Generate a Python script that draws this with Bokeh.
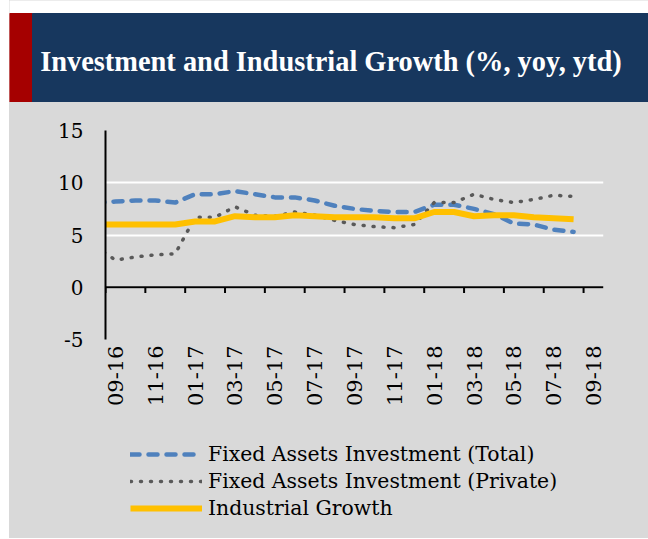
import math
from bokeh.plotting import figure
from bokeh.models import Range1d, FixedTicker, Legend, LegendItem, ColumnDataSource, Span
from bokeh.layouts import column
from bokeh.embed import file_html
from bokeh.resources import INLINE
from bokeh.core.properties import value

TITLE = "Investment and Industrial Growth  (%, yoy, ytd)"

months = ["08-16", "09-16", "10-16", "11-16", "12-16",
          "01-17", "02-17", "03-17", "04-17", "05-17", "06-17", "07-17",
          "08-17", "09-17", "10-17", "11-17", "12-17",
          "01-18", "02-18", "03-18", "04-18", "05-18", "06-18", "07-18",
          "08-18", "09-18"]

fai_total = [8.1, 8.2, 8.3, 8.3, 8.1, 8.9, 8.9, 9.2, 8.9, 8.6, 8.6, 8.3,
             7.8, 7.5, 7.3, 7.2, 7.2, 7.9, 7.9, 7.5, 7.0, 6.1, 6.0, 5.5, 5.3]
fai_private = [3.9, 2.6, 2.9, 3.1, 3.2, 6.7, 6.7, 7.7, 6.9, 6.8, 7.2, 6.9,
               6.4, 6.0, 5.8, 5.7, 6.0, 8.1, 8.1, 8.9, 8.4, 8.1, 8.4, 8.8, 8.7]
industrial = [6.0, 6.0, 6.0, 6.0, 6.0, 6.3, 6.3, 6.8, 6.7, 6.7, 6.9, 6.8,
              6.7, 6.7, 6.7, 6.6, 6.6, 7.2, 7.2, 6.8, 6.9, 6.9, 6.7, 6.6, 6.5]

series_labels = ["Fixed Assets Investment (Total)",
                 "Fixed Assets Investment (Private)",
                 "Industrial Growth"]
y_ticks = [-5, 0, 5, 10, 15]

NAVY = "#17375e"
RED = "#a50000"
BG = "#d9d9d9"
SERIF = "DejaVu Serif"
STYLES = [dict(line_color="#4f81bd", line_width=4.5, line_dash="9 9", line_cap="round"),
          dict(line_color="#595959", line_width=3.5, line_dash="1 9", line_cap="round"),
          dict(line_color="#ffc000", line_width=6)]
COLS = ["total", "private", "ind"]

W = 639

# ---------- banner ----------
banner = figure(width=W, height=102, x_range=Range1d(0, W), y_range=Range1d(0, 102),
                toolbar_location=None, output_backend="svg", min_border=0,
                x_axis_location=None, y_axis_location=None)
banner.frame_align = False
banner.grid.visible = False
banner.outline_line_color = None
banner.background_fill_color = "white"
banner.border_fill_color = "white"
banner.quad(left=[0], right=[23], bottom=[0], top=[89], color=RED)
banner.quad(left=[23], right=[W], bottom=[0], top=[89], color=NAVY)
banner.text(x=[325], y=[41], text=[TITLE], text_font=value("Liberation Serif"),
            text_font_style="bold", text_font_size="28.4px", text_color="white",
            text_align="center", text_baseline="alphabetic")

# ---------- chart ----------
n = len(fai_total)
src = ColumnDataSource(dict(x=list(range(n)), total=fai_total,
                            private=fai_private, ind=industrial))

p = figure(x_range=Range1d(0.5, len(months) - 0.5),
           y_range=Range1d(y_ticks[0], y_ticks[-1]),
           toolbar_location=None, output_backend="svg",
           min_border_left=96, min_border_right=45, min_border_top=28, min_border_bottom=91)
p.frame_width = 498
p.frame_height = 209
p.frame_align = False
p.background_fill_color = BG
p.border_fill_color = BG
p.outline_line_color = None

# y axis
p.yaxis.ticker = FixedTicker(ticks=y_ticks)
p.yaxis.major_label_overrides = {t: str(t) for t in y_ticks}
p.yaxis.axis_line_color = "black"
p.yaxis.axis_line_width = 2
p.yaxis.major_tick_line_color = None
p.yaxis.major_tick_out = 0
p.yaxis.major_tick_in = 0
p.yaxis.minor_tick_line_color = None
p.yaxis.major_label_standoff = 22
p.yaxis.major_label_text_font = SERIF
p.yaxis.major_label_text_font_size = "20px"
p.yaxis.major_label_text_color = "black"
p.ygrid.grid_line_color = "white"
p.ygrid.grid_line_width = 2
p.xgrid.visible = False

# x labels axis (bottom)
label_idx = list(range(1, len(months), 2))
xa = p.xaxis[0]
xa.ticker = FixedTicker(ticks=label_idx)
xa.major_label_overrides = {i: months[i] for i in label_idx}
xa.axis_line_color = None
xa.major_tick_line_color = None
xa.major_tick_out = 0
xa.major_tick_in = 0
xa.minor_tick_line_color = None
xa.major_label_orientation = math.pi / 2
xa.major_label_standoff = 6
xa.major_label_text_font = SERIF
xa.major_label_text_font_size = "21px"
xa.major_label_text_color = "black"

# category-boundary tick marks hanging from the zero line
bound_ticks = [i - 0.5 for i in label_idx]
tick_len = 0.55  # in y units (about 6 px)
p.segment(x0=bound_ticks, y0=[0] * len(bound_ticks), x1=bound_ticks,
          y1=[-tick_len] * len(bound_ticks), line_color="black", line_width=2)
p.add_layout(Span(location=0, dimension="width", line_color="black", line_width=2))

for col, st in zip(COLS, STYLES):
    p.line("x", col, source=src, **st)

# ---------- legend strip ----------
lg = figure(width=W, height=108, x_range=Range1d(100, 101), y_range=Range1d(0, 1),
            toolbar_location=None, output_backend="svg", min_border=0,
            x_axis_location=None, y_axis_location=None)
lg.frame_align = False
lg.grid.visible = False
lg.outline_line_color = None
lg.background_fill_color = BG
lg.border_fill_color = BG
rs = [lg.line("x", col, source=src, **st) for col, st in zip(COLS, STYLES)]

legend = Legend(items=[LegendItem(label=lab, renderers=[r]) for lab, r in zip(series_labels, rs)],
                location=(121, 18), orientation="vertical",
                glyph_width=72, glyph_height=20, label_standoff=6, spacing=3,
                padding=0, margin=0, background_fill_alpha=0, border_line_color=None,
                label_text_font=SERIF, label_text_font_size="20.4px",
                label_text_color="black")
lg.add_layout(legend, "center")

layout = column(banner, p, lg, spacing=0, margin=(0, 0, 0, 9),
                styles={"background-color": BG})
open("out.html", "w").write(file_html(layout, INLINE))
